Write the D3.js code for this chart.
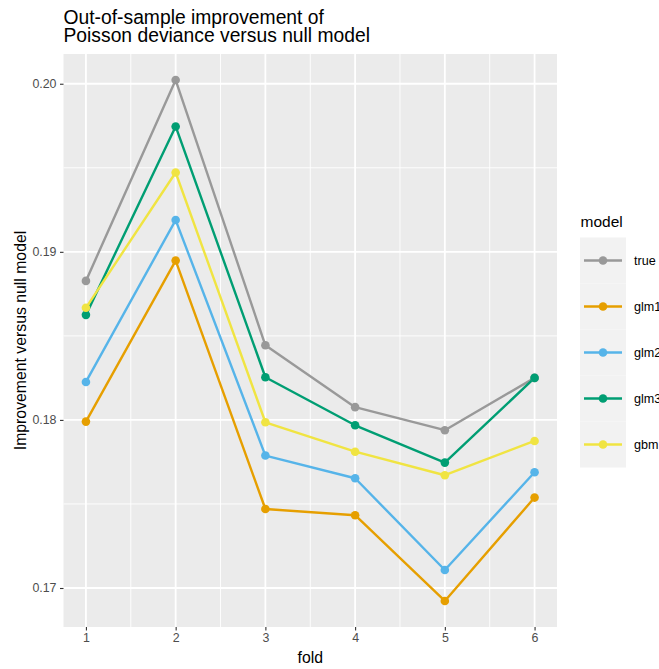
<!DOCTYPE html>
<html>
<head>
<meta charset="utf-8">
<script src="https://cdn.jsdelivr.net/npm/d3@7"></script>
<style>
  body { margin: 0; background: #fff; }
  svg text { font-family: "Liberation Sans", Arial, sans-serif; }
</style>
</head>
<body>
<svg id="chart" width="659" height="669"></svg>
<script>
const folds = [1, 2, 3, 4, 5, 6];
const models = ["true", "glm1", "glm2", "glm3", "gbm"];
const colors = ["#999999", "#E69F00", "#56B4E9", "#009E73", "#F0E442"];
const trueVals = [0.18827, 0.20022, 0.18444, 0.18076, 0.17939, 0.18250];
const glm1Vals = [0.17990, 0.18948, 0.17470, 0.17433, 0.16923, 0.17538];
const glm2Vals = [0.18226, 0.19189, 0.17788, 0.17653, 0.17107, 0.17689];
const glm3Vals = [0.18625, 0.19746, 0.18254, 0.17968, 0.17746, 0.18250];
const gbmVals  = [0.18667, 0.19472, 0.17986, 0.17811, 0.17671, 0.17875];
const yTicks = [0.17, 0.18, 0.19, 0.20];
const yMinor = [0.175, 0.185, 0.195];
const xMinor = [1.5, 2.5, 3.5, 4.5, 5.5];
const titleLines = ["Out-of-sample improvement of", "Poisson deviance versus null model"];
const xTitle = "fold";
const yTitle = "Improvement versus null model";
const legendTitle = "model";

const seriesVals = [trueVals, glm1Vals, glm2Vals, glm3Vals, gbmVals];
const series = models.map((m, i) => ({ name: m, color: colors[i], values: seriesVals[i].map((v, j) => ({ fold: folds[j], value: v })) }));

const svg = d3.select("#chart");
const panel = { left: 63.5, right: 557, top: 54, bottom: 627 };

const allVals = seriesVals.flat();
const yMin = d3.min(allVals), yMax = d3.max(allVals);
const yExp = (yMax - yMin) * 0.05;
const x = d3.scaleLinear().domain([0.75, 6.25]).range([panel.left, panel.right]);
const y = d3.scaleLinear().domain([yMin - yExp, yMax + yExp]).range([panel.bottom, panel.top]);

// panel background
svg.append("rect").attr("x", panel.left).attr("y", panel.top)
  .attr("width", panel.right - panel.left).attr("height", panel.bottom - panel.top)
  .attr("fill", "#EBEBEB");

const grid = svg.append("g");
grid.selectAll(".ymin").data(yMinor).join("line")
  .attr("x1", panel.left).attr("x2", panel.right)
  .attr("y1", d => y(d)).attr("y2", d => y(d))
  .attr("stroke", "#fff").attr("stroke-width", 0.9);
grid.selectAll(".xmin").data(xMinor).join("line")
  .attr("y1", panel.top).attr("y2", panel.bottom)
  .attr("x1", d => x(d)).attr("x2", d => x(d))
  .attr("stroke", "#fff").attr("stroke-width", 0.9);
grid.selectAll(".ymaj").data(yTicks).join("line")
  .attr("x1", panel.left).attr("x2", panel.right)
  .attr("y1", d => y(d)).attr("y2", d => y(d))
  .attr("stroke", "#fff").attr("stroke-width", 1.8);
grid.selectAll(".xmaj").data(folds).join("line")
  .attr("y1", panel.top).attr("y2", panel.bottom)
  .attr("x1", d => x(d)).attr("x2", d => x(d))
  .attr("stroke", "#fff").attr("stroke-width", 1.8);

// axes
const yAxis = d3.axisLeft(y).tickValues(yTicks).tickFormat(d3.format(".2f")).tickSize(3.5).tickPadding(3.5);
const xAxis = d3.axisBottom(x).tickValues(folds).tickFormat(d3.format("d")).tickSize(3.5).tickPadding(3);
const gy = svg.append("g").attr("transform", `translate(${panel.left},0)`).call(yAxis);
const gx = svg.append("g").attr("transform", `translate(0,${panel.bottom})`).call(xAxis);
[gx, gy].forEach(g => {
  g.select(".domain").remove();
  g.selectAll(".tick line").attr("stroke", "#333333").attr("stroke-width", 1.1);
  g.selectAll(".tick text").attr("fill", "#4D4D4D").style("font-size", "12.4px");
});

// lines
const line = d3.line().x(d => x(d.fold)).y(d => y(d.value));
svg.append("g").selectAll("path").data(series).join("path")
  .attr("d", d => line(d.values))
  .attr("fill", "none").attr("stroke", d => d.color).attr("stroke-width", 2.4)
  .attr("stroke-linejoin", "round");
// points
const pts = svg.append("g");
series.forEach(s => {
  pts.append("g").selectAll("circle").data(s.values).join("circle")
    .attr("cx", d => x(d.fold)).attr("cy", d => y(d.value)).attr("r", 4.3)
    .attr("fill", s.color);
});

// titles
svg.append("text").attr("x", 63.5).attr("y", 23.5).style("font-size", "19.3px").attr("fill", "#000")
  .selectAll("tspan").data(titleLines).join("tspan")
  .attr("x", 63.5).attr("dy", (d, i) => i === 0 ? 0 : 18.6).text(d => d);
svg.append("text").attr("x", (panel.left + panel.right) / 2).attr("y", 663)
  .attr("text-anchor", "middle").style("font-size", "15.8px").attr("fill", "#000").text(xTitle);
svg.append("text").attr("transform", `translate(25.5,${(panel.top + panel.bottom) / 2}) rotate(-90)`)
  .attr("text-anchor", "middle").style("font-size", "15.8px").attr("fill", "#000").text(yTitle);

// legend
const keySize = 46;
const leg = svg.append("g").attr("transform", "translate(580,237.5)");
leg.append("text").attr("x", 0.5).attr("y", -10.5).style("font-size", "15.5px").attr("fill", "#000").text(legendTitle);
const items = leg.selectAll(".item").data(series).join("g")
  .attr("transform", (d, i) => `translate(0,${i * keySize})`);
items.append("rect").attr("width", keySize).attr("height", keySize).attr("fill", "#F2F2F2");
items.append("line").attr("x1", 4).attr("x2", 42).attr("y1", keySize / 2).attr("y2", keySize / 2)
  .attr("stroke", d => d.color).attr("stroke-width", 2.4);
items.append("circle").attr("cx", keySize / 2).attr("cy", keySize / 2).attr("r", 4.3).attr("fill", d => d.color);
items.append("text").attr("x", 54).attr("y", keySize / 2 + 4.5).style("font-size", "12.6px").attr("fill", "#000")
  .text(d => d.name);
</script>
</body>
</html>
